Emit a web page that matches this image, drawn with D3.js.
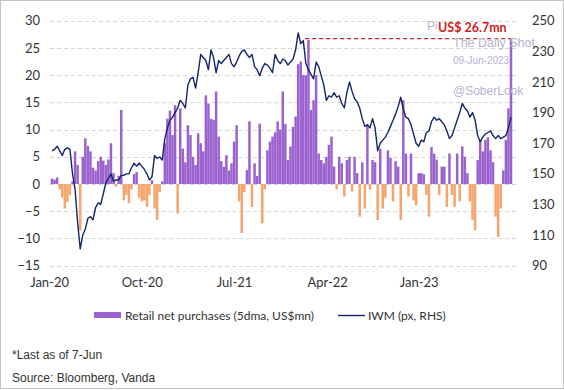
<!DOCTYPE html>
<html><head><meta charset="utf-8">
<script src="https://cdn.jsdelivr.net/npm/d3@7"></script>
<style>
html,body{margin:0;padding:0;background:#fff;}
svg{display:block;}
</style></head>
<body>
<svg id="chart" width="564" height="390"></svg>
<script>
// ---------------- DATA ----------------
const startDate = "2020-01-01";   // first weekly observation
const stepDays = 7;                // weekly observations
const endDate = "2023-06-07";      // last observation (*Last as of 7-Jun)

// Retail net purchases (5dma, US$mn), weekly samples
const retail = [
  1.0, 0.8, 1.2, -1.0, -2.5, -4.5, -3.3, -2.0, 0.5, 6.0,
  3.5, -8.5, 5.0, 8.4, 7.0, 6.0, 3.0, 2.5, 4.2, 5.0,
  4.3, 3.5, 4.5, 7.5, 2.0, -0.5, 1.5, 13.6, -3.0, -2.0,
  -3.5, -1.0, 1.8, 2.2, -2.5, -3.2, -3.0, -4.2, -2.0, 0.7,
  -4.5, -6.6, -1.5, 0.5, 7.5, 12.0, 13.5, 9.0, 14.5, -5.4,
  13.9, 6.5, 4.0, 10.8, 9.0, 5.0, 3.5, 9.3, 7.5, 6.0,
  16.3, 14.8, 12.0, 11.8, 17.0, 8.7, 4.2, 3.2, 5.3, 2.5,
  3.8, 7.8, 10.8, -3.2, -9.0, -1.5, 2.6, 11.5, -4.2, 3.8,
  1.5, 11.1, -7.2, -1.0, 6.2, 7.8, 8.7, 9.5, 11.5, 10.0,
  17.0, 11.0, 4.4, 6.9, 10.5, 12.4, 22.0, 22.5, 20.0, 20.0,
  26.5, 13.6, 15.4, 20.0, 5.6, 4.4, 3.8, 5.0, 7.2, 8.7,
  3.2, -1.0, 5.0, 3.8, -2.3, 4.4, 5.0, -1.4, 5.0, 2.0,
  -6.0, 4.0, -4.5, 11.0, -1.0, 4.4, 4.0, -6.6, 6.5, -4.5,
  -2.5, 6.2, 4.8, -3.2, 4.2, 3.2, -6.6, 15.4, 5.6, -2.3,
  5.6, -3.0, -3.9, 2.0, 2.0, 1.8, -2.0, -6.0, 6.8, 5.6,
  4.5, -2.0, 3.2, 3.2, -4.2, 5.6, -2.0, -4.2, 5.6, -3.2,
  6.9, 5.0, 2.0, -3.2, -6.6, -8.5, 4.4, 8.1, 6.0, 8.1,
  8.6, 6.2, 4.0, -6.0, -9.7, -4.5, 2.5, 8.1, 13.9, 26.7
];

// IWM price (RHS), weekly samples
const iwm = [
  165, 166, 168, 165, 162, 166, 167, 166, 150, 140,
  118, 101, 110, 114, 121, 122, 120, 128, 131, 130,
  137, 144, 147, 150, 145, 146, 146, 149, 149, 150,
  150, 154, 157, 155, 157, 155, 153, 150, 146, 148,
  162, 160, 161, 159, 173, 180, 185, 187, 190, 193,
  198, 196, 193, 208, 212, 213, 206, 216, 228, 226,
  224, 218, 231, 226, 216, 224, 222, 224, 226, 228,
  222, 220, 223, 227, 230, 231, 228, 226, 228, 220,
  218, 214, 219, 222, 221, 219, 216, 228, 224, 222,
  225, 224, 221, 223, 225, 231, 242, 235, 237, 222,
  218, 215, 212, 223, 220, 214, 208, 198, 201, 200,
  203, 200, 201, 196, 193, 203, 210, 204, 199, 197,
  193, 186, 181, 182, 180, 186, 180, 165, 170, 172,
  174, 177, 181, 185, 189, 194, 200, 192, 187, 186,
  182, 176, 170, 168, 172, 171, 177, 178, 184, 187,
  185, 186, 184, 182, 178, 173, 175, 180, 185, 190,
  196, 193, 191, 187, 190, 185, 175, 171, 174, 176,
  177, 178, 175, 173, 175, 173, 174, 175, 180, 187
];

const leftTicks = [30, 25, 20, 15, 10, 5, 0, -5, -10, -15];
const rightTicks = [250, 230, 210, 190, 170, 150, 130, 110, 90];
const xTickLabels = ["Jan-20", "Oct-20", "Jul-21", "Apr-22", "Jan-23"];
const xTickDates = ["2019-12-24", "2020-09-02", "2021-05-12", "2022-01-21", "2022-09-28"];
const annotationStart = "2021-11-22";
const legendLabels = ["Retail net purchases (5dma, US$mn)", "IWM (px, RHS)"];
const footnotes = ["*Last as of 7-Jun", "Source: Bloomberg, Vanda"];

// ---------------- CHART ----------------
const parse = d3.timeParse("%Y-%m-%d");
const t0 = parse(startDate);
const dates = retail.map((_, i) => d3.timeDay.offset(t0, i * stepDays));

const svg = d3.select("#chart");
const W = 564, H = 390;
const plot = {left: 50, right: 519, top: 20.7, bottom: 265.7};

const x = d3.scaleTime().domain([t0, parse(endDate)]).range([52, 511]);
const yL = d3.scaleLinear().domain([-15, 30]).range([plot.bottom, plot.top]);
const yR = d3.scaleLinear().domain([90, 250]).range([plot.bottom, plot.top]);

const fontAxis = "Lato, 'Open Sans', sans-serif";
const fontFoot = "'Liberation Sans', Arial, sans-serif";

// outer frame
svg.append("rect").attr("x", 0.5).attr("y", 0.5).attr("width", W - 1).attr("height", H - 2)
  .attr("fill", "#fff").attr("stroke", "#c4c4c4").attr("stroke-width", 1);

// gridlines
svg.append("g").selectAll("line").data(leftTicks).join("line")
  .attr("x1", plot.left).attr("x2", plot.right)
  .attr("y1", d => Math.round(yL(d)) + 0.5).attr("y2", d => Math.round(yL(d)) + 0.5)
  .attr("stroke", "#d6d6d6").attr("stroke-width", 1).attr("stroke-dasharray", "4,3");

// bars
const bw = (x(dates[1]) - x(dates[0])) * 0.97;
svg.append("g").selectAll("rect").data(retail).join("rect")
  .attr("x", (d, i) => x(dates[i]) - bw / 2)
  .attr("width", bw)
  .attr("y", d => yL(Math.max(0, d)))
  .attr("height", d => Math.abs(yL(d) - yL(0)))
  .attr("fill", d => d >= 0 ? "#9B62CF" : "#F5A46C");

// red dashed annotation line at last value
const lastVal = retail[retail.length - 1];
svg.append("line")
  .attr("x1", x(parse(annotationStart))).attr("x2", x(dates[dates.length - 1]))
  .attr("y1", yL(lastVal)).attr("y2", yL(lastVal))
  .attr("stroke", "#D42020").attr("stroke-width", 1.3).attr("stroke-dasharray", "4,3");

// IWM line
const line = d3.line().x((d, i) => x(dates[i])).y(d => yR(d));
svg.append("path").datum(iwm).attr("d", line)
  .attr("fill", "none").attr("stroke", "#14256B").attr("stroke-width", 1.4)
  .attr("stroke-linejoin", "round");

// watermark
const wm = svg.append("g").attr("fill", "#b4b4d2").attr("font-family", "'Liberation Sans', Arial, sans-serif");
wm.append("text").attr("x", 427).attr("y", 30).attr("font-size", 12).text("Posted on");
wm.append("text").attr("x", 453).attr("y", 47).attr("font-size", 12.5).text("The Daily Shot");
wm.append("text").attr("x", 453).attr("y", 64).attr("font-size", 10).text("09-Jun-2023");
wm.append("text").attr("x", 453).attr("y", 94.5).attr("font-size", 12).text("@SoberLook");

// red label
const lbl = svg.append("g");
lbl.append("rect").attr("x", 437).attr("y", 22).attr("width", 72).attr("height", 12).attr("fill", "#fff");
lbl.append("text").attr("x", 438).attr("y", 32).attr("font-family", fontAxis)
  .attr("font-weight", "bold").attr("font-size", 12.5).attr("fill", "#D42020")
  .text("US$ " + lastVal.toFixed(1) + "mn");

// axes
const axL = d3.axisLeft(yL).tickValues(leftTicks).tickSize(0).tickPadding(10);
const gL = svg.append("g").attr("transform", `translate(${plot.left},0)`).call(axL);
const axR = d3.axisRight(yR).tickValues(rightTicks).tickSize(0).tickPadding(13);
const gR = svg.append("g").attr("transform", `translate(${plot.right},0)`).call(axR);
const axB = d3.axisBottom(x).tickValues(xTickDates.map(parse))
  .tickFormat((d, i) => xTickLabels[i]).tickSize(0).tickPadding(12);
const gB = svg.append("g").attr("transform", `translate(0,${plot.bottom})`).call(axB);
[gL, gR, gB].forEach(g => {
  g.select(".domain").remove();
  g.selectAll("text").attr("font-family", fontAxis).attr("font-size", 13).attr("fill", "#333");
});

// legend
const lg = svg.append("g").attr("font-family", fontAxis).attr("font-size", 12).attr("fill", "#333");
lg.append("rect").attr("x", 94).attr("y", 312).attr("width", 27).attr("height", 6).attr("fill", "#9B62CF");
lg.append("text").attr("x", 125).attr("y", 319.5).text(legendLabels[0]);
lg.append("line").attr("x1", 338).attr("x2", 365).attr("y1", 315.5).attr("y2", 315.5)
  .attr("stroke", "#14256B").attr("stroke-width", 1.4);
lg.append("text").attr("x", 368).attr("y", 319.5).text(legendLabels[1]);

// footnotes
const ft = svg.append("g").attr("font-family", fontFoot).attr("font-size", 12).attr("fill", "#333");
ft.append("text").attr("x", 12).attr("y", 358.5).text(footnotes[0]);
ft.append("text").attr("x", 12).attr("y", 382).text(footnotes[1]);
</script>
</body></html>
